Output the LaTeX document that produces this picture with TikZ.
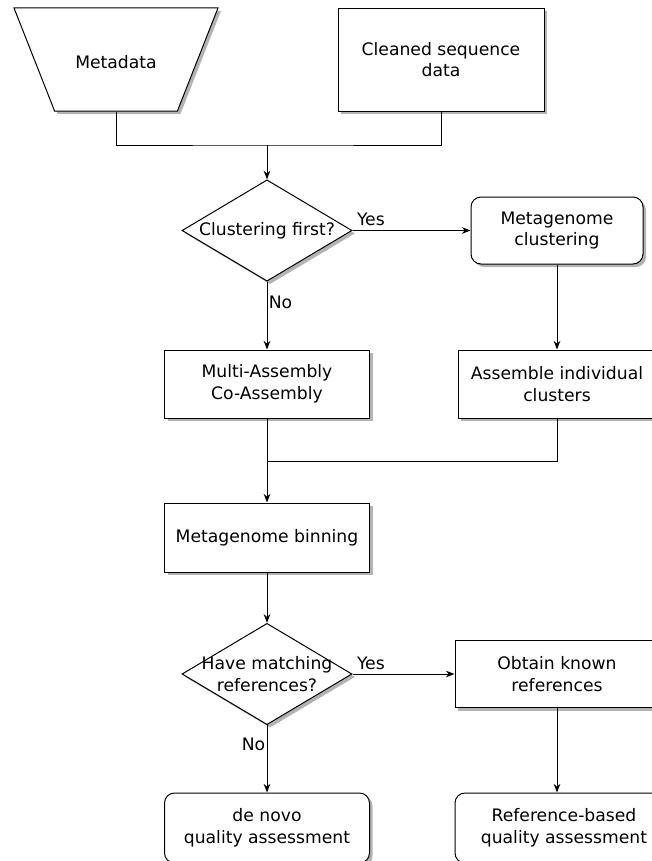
\documentclass[tikz,border=0pt]{standalone}
\usepackage{fontspec}
\setmainfont{DejaVu Sans}
\usetikzlibrary{shapes.geometric,shadows,arrows.meta}
\tikzstyle{box}=[draw=black,fill=white,line width=0.75pt,align=center,inner sep=0pt,font=\fontsize{12.9}{16.3}\selectfont,drop shadow={shadow xshift=2.25pt,shadow yshift=-2.25pt,fill=black!50,opacity=.6}]
\tikzstyle{process}=[box,rectangle,minimum width=153.75pt,minimum height=51pt]
\tikzstyle{terminal}=[process,rounded corners=7.5pt]
\tikzstyle{decision}=[box,diamond,minimum width=127.5pt,minimum height=76pt]
\tikzstyle{source}=[box,trapezium,shape border rotate=180,trapezium angle=68.5,trapezium stretches body,text height=45.4pt,text depth=31.9pt,minimum width=153pt]
\tikzstyle{question}=[font=\fontsize{12.9}{16.3}\selectfont,align=center,inner sep=0pt]
\tikzstyle{answer}=[font=\fontsize{12.9}{16.3}\selectfont,inner sep=3pt]
\tikzstyle{flow}=[-{Stealth[length=6.5pt,width=5pt]},line width=0.75pt]

\begin{document}
\begin{tikzpicture}[x=0.75pt,y=-0.75pt]
                  \useasboundingbox (0,0) rectangle (652,861);

                  \node (meta) at (116,59.5) [source] {Metadata};
                  \node (clean) at (441,59.5) [process,minimum width=154.5pt,minimum height=77.25pt] {Cleaned sequence\\data};

                  \node (d1) at (267,230.5) [decision,label={[question]center:{Clustering first?}}] {};
                  \node (clust) at (557,230.5) [terminal,minimum width=129pt,minimum height=50.25pt] {Metagenome\\clustering};

                  \node (multi) at (267,384) [process] {Multi-Assembly\\Co-Assembly};
                  \node (asm) at (557,384) [process,minimum width=148.5pt] {Assemble individual\\clusters};

                  \node (bin) at (267,537.5) [process,minimum height=51.75pt] {Metagenome binning};

                  \node (d2) at (267,674) [decision,label={[question]center:{Have matching\\references?}}] {};
                  \node (obtain) at (557,674) [process,minimum width=153pt,minimum height=50.25pt] {Obtain known\\references};

                  \node (denovo) at (267,828) [terminal,minimum height=52.5pt] {de novo\\quality assessment};
                  \node (refb) at (564,828) [terminal,minimum width=163.5pt,minimum height=52.5pt] {Reference-based\\quality assessment};

                  \coordinate (j1) at (267,145);
                  \coordinate (j2) at (267,461);

                  \draw [line width=0.75pt] (meta.south) |- (j1) -| (clean.south);
                  \draw [flow] (j1) -- (d1);
                  \draw [flow] (d1) -- node[answer,pos=0,anchor=south west] {Yes} (clust);
                  \draw [flow] (d1) -- node[answer,pos=0.3,anchor=west,inner sep=1pt] {No} (multi);
                  \draw [flow] (clust) -- (asm);

                  \draw [line width=0.75pt] (multi.south) |- (j2) -| (asm.south);
                  \draw [flow] (j2) -- (bin);
                  \draw [flow] (bin) -- (d2);
                  \draw [flow] (d2) -- node[answer,pos=0,anchor=south west] {Yes} (obtain);
                  \draw [flow] (d2) -- node[answer,pos=0.28,anchor=east,inner sep=1pt] {No} (denovo);
                  \draw [flow] (obtain) -- (obtain.south |- refb.north);
\end{tikzpicture}
\end{document}
